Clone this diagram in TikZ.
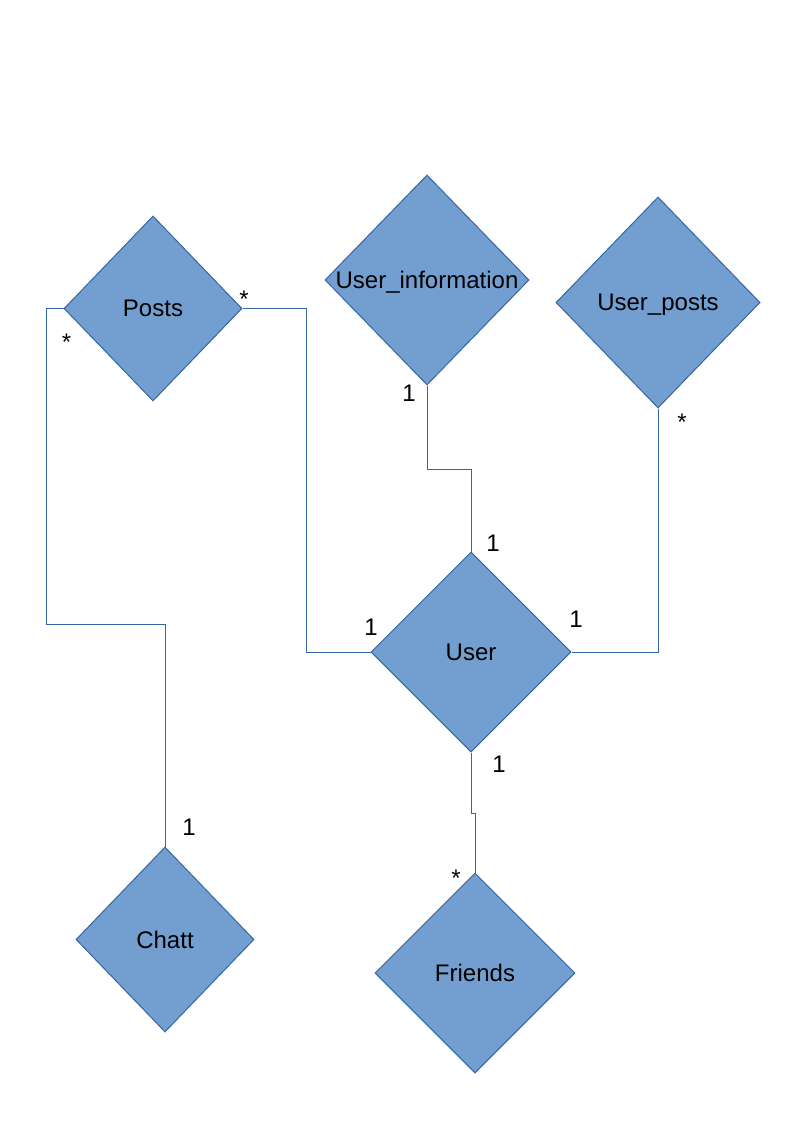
\documentclass[tikz,border=0pt]{standalone}
\usepackage{fontspec}
\setmainfont{Liberation Sans}
\usetikzlibrary{shapes.geometric}
\definecolor{entfill}{HTML}{729FCF}
\definecolor{entline}{HTML}{3465A4}
\tikzset{
  ent/.style 2 args={shape=diamond, draw=entline, fill=entfill, line width=0.75pt, inner sep=0pt,
    minimum width=#1*0.75pt, minimum height=#2*0.75pt},
  etext/.style={anchor=base, yshift=-6.45pt, font=\fontsize{18}{21}\selectfont, inner sep=0pt},
  num/.style={anchor=base, yshift=-6.45pt, font=\fontsize{18}{21}\selectfont, inner sep=0pt},
  star/.style={anchor=base, yshift=-10.3pt, font=\fontsize{18}{21}\selectfont, inner sep=0pt},
  conn/.style={draw=entline, line width=0.75pt}
}
\begin{document}
\begin{tikzpicture}[x=0.75pt, y=-0.75pt]
\useasboundingbox[fill=white] (0,0) rectangle (794,1123);
% entities
\node[ent={178}{185}] (posts) at (153,308.5) {};
\node[ent={204}{210}] (uinfo) at (427,280) {};
\node[ent={204}{211}] (uposts) at (658,302.5) {};
\node[ent={200}{200}] (user) at (471,652) {};
\node[ent={178}{185}] (chatt) at (165,939.5) {};
\node[ent={200}{200}] (friends) at (475,973) {};
% names
\node[etext] (tposts) at (153,308) {Posts};
\node[etext] (tuinfo) at (427,280) {User\_information};
\node[etext] (tuposts) at (658,302) {User\_posts};
\node[etext] (tuser) at (471,652) {User};
\node[etext] (tchatt) at (165,940) {Chatt};
\node[etext] (tfriends) at (475,973) {Friends};
% connectors
\draw[conn] (posts.east) -- (306,308.5) -- (306,652) -- (user.west);
\draw[conn] (posts.west) -- (46,308.5) -- (46,624) -| (chatt.north);
\draw[conn] (uinfo.south) -- (427,469) -| (user.north);
\draw[conn] (uposts.south) |- (user.east);
\draw[conn] (user.south) -- (471,813) -| (friends.north);
% multiplicities
\node[star] (m1) at (244,294) {*};
\node[star] (m2) at (66.5,337) {*};
\node[num] (m3) at (371,627) {1};
\node[num] (m4) at (189,827) {1};
\node[num] (m5) at (409,393) {1};
\node[num] (m6) at (493,543) {1};
\node[star] (m7) at (682,417) {*};
\node[num] (m8) at (576,619) {1};
\node[num] (m9) at (499,764) {1};
\node[star] (m10) at (456,873) {*};
\end{tikzpicture}
\end{document}
